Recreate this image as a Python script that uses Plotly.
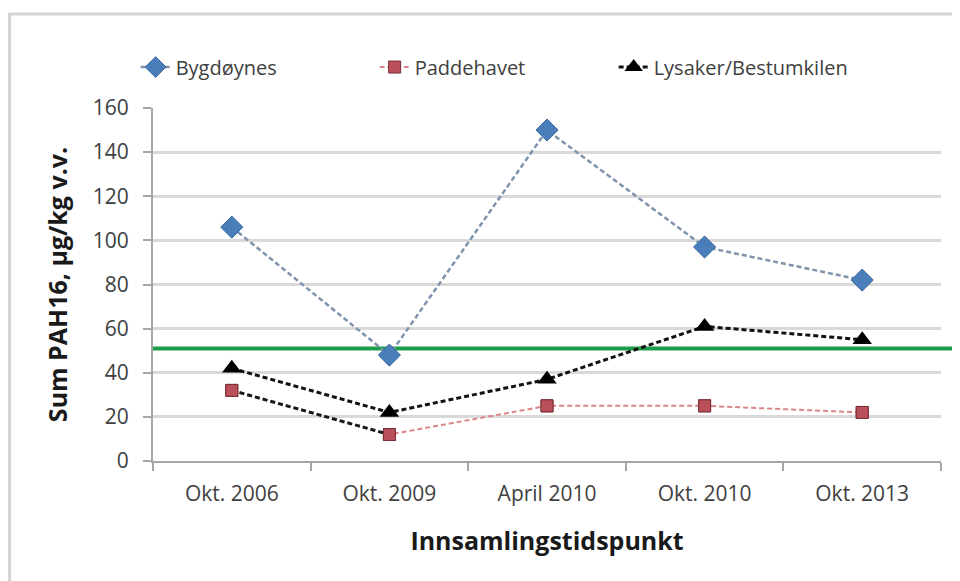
import plotly.graph_objects as go

# data
categories = ["Okt. 2006", "Okt. 2009", "April 2010", "Okt. 2010", "Okt. 2013"]
bygdoynes = [106, 48, 150, 97, 82]
paddehavet = [32, 12, 25, 25, 22]
lysaker = [42, 22, 37, 61, 55]
threshold = 51  # green limit line
y_ticks = [0, 20, 40, 60, 80, 100, 120, 140, 160]

FONT = "Open Sans"
TXT = "#404040"

fig = go.Figure()

fig.add_trace(go.Scatter(
    x=categories, y=bygdoynes, name="Bygdøynes", mode="lines+markers",
    line=dict(color="#7f93ad", width=2.5, dash="5px,3px"),
    marker=dict(symbol="diamond", size=17, color="#4a7ebb", line=dict(color="#3a68a0", width=1))
))
# Paddehavet: pink dashed line, but the first segment is black in the original
fig.add_trace(go.Scatter(
    x=categories, y=paddehavet, name="Paddehavet", mode="lines+markers",
    line=dict(color="#dc8588", width=2, dash="5px,3px"),
    marker=dict(symbol="square", size=12, color="#b9505a", line=dict(color="#7a2e35", width=1))
))
fig.add_trace(go.Scatter(
    x=categories[:2], y=paddehavet[:2], mode="lines", showlegend=False,
    line=dict(color="#1a1a1a", width=3, dash="5px,3px"), hoverinfo="skip"
))
fig.add_trace(go.Scatter(
    x=categories, y=paddehavet, mode="markers", showlegend=False, hoverinfo="skip",
    marker=dict(symbol="square", size=12, color="#b9505a", line=dict(color="#7a2e35", width=1))
))
fig.add_trace(go.Scatter(
    x=categories, y=lysaker, name="Lysaker/Bestumkilen", mode="lines+markers",
    line=dict(color="#111111", width=3, dash="5px,3px"),
    marker=dict(symbol="triangle-up", size=17, color="#000000")
))

# green limit line, runs past the plot edge
fig.add_shape(type="line", xref="paper", yref="y", x0=0, x1=1.03,
              y0=threshold, y1=threshold, line=dict(color="#1e9e4a", width=4), layer="below")

# outer frame
fig.add_shape(type="rect", xref="paper", yref="paper", x0=-0.182, x1=1.06, y0=-0.5, y1=1.266,
              line=dict(color="#d4d4d4", width=3), layer="below")

fig.update_xaxes(
    type="category", range=[-0.5, 4.5], automargin=False,
    showline=True, linecolor="#a6a6a6", linewidth=2,
    showgrid=False, ticks="outside", tickson="boundaries", ticklen=8, tickcolor="#a6a6a6", tickwidth=2,
    ticklabelstandoff=13,
    tickfont=dict(family=FONT, size=21, color=TXT),
    title=dict(text="<b>Innsamlingstidspunkt</b>", font=dict(family=FONT, size=25, color="#1a1a1a"), standoff=26),
)
fig.update_yaxes(
    range=[0, 160], tickvals=y_ticks, automargin=False,
    showline=True, linecolor="#a6a6a6", linewidth=2,
    showgrid=True, gridcolor="#d9d9d9", gridwidth=3,
    ticks="outside", ticklen=8, tickcolor="#a6a6a6", tickwidth=2,
    ticklabelstandoff=10, zeroline=False,
    tickfont=dict(family=FONT, size=21, color=TXT),
    title=dict(text="<b>Sum PAH16, µg/kg v.v.</b>", font=dict(family=FONT, size=25, color="#1a1a1a"), standoff=18),
)

fig.update_layout(
    width=960, height=581,
    margin=dict(l=145, r=27, t=100, b=128),
    paper_bgcolor="white", plot_bgcolor="white",
    showlegend=True,
    legend=dict(orientation="h", x=-0.022, y=1.116, xanchor="left", yanchor="middle",
                font=dict(family=FONT, size=20, color=TXT), entrywidth=194, traceorder="normal"),
)

fig.write_html("out.html")
